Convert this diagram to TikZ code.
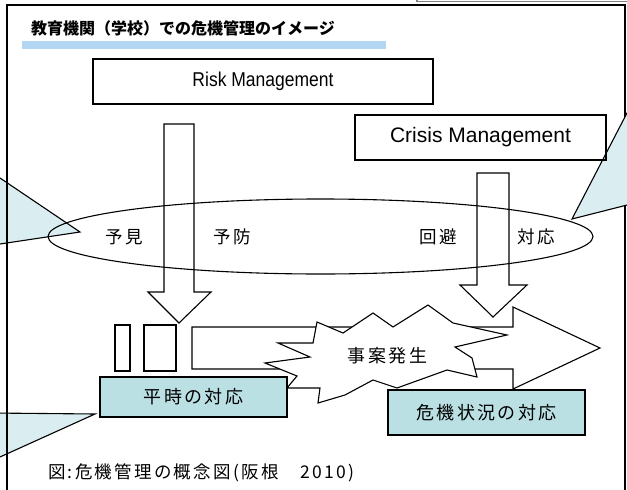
\documentclass[tikz,border=0pt]{standalone}
\usepackage{fontspec}
\setmainfont{Liberation Sans}
\newfontfamily\jp{Noto Sans CJK JP}
\newfontfamily\jpsp[LetterSpace=13]{Noto Sans CJK JP}
\usetikzlibrary{shapes.geometric}
\definecolor{calloutfill}{RGB}{218,238,241}
\definecolor{boxfill}{RGB}{186,224,228}
\definecolor{titlebar}{RGB}{178,215,242}
\tikzset{
  mbox/.style={draw, line width=1.2pt, inner sep=0pt},
  tealbox/.style={mbox, fill=boxfill},
  shapeline/.style={draw, line width=1.1pt, line join=miter},
  callout/.style={draw, line width=1.1pt, fill=calloutfill},
  jlabel/.style={font=\jpsp\fontsize{17.5}{20}\selectfont, inner sep=0pt},
  blabel/.style={font=\jpsp\fontsize{18}{20}\selectfont, inner sep=0pt},
}
\begin{document}
\begin{tikzpicture}[x=1pt,y=-1pt]
\useasboundingbox (0,0) rectangle (627,490);
% grey piece of the box above
\draw[gray, line width=1.2pt] (417,-2) -- (417,1.5) -- (630,1.5);
% left callouts (under the frame)
\path[callout] (-10,171.25) -- (80,232) -- (-10,245.5) -- cycle;
\path[callout] (95,414) -- (-10,413) -- (-10,461.5) -- cycle;
% frame
\draw[line width=1.1pt] (7,495) -- (7,5) -- (625,5) -- (625,495);
% right callout (over the frame)
\path[callout] (572,219) -- (637,93.7) -- (637,202.5) -- cycle;
% title
\fill[titlebar] (22,41) rectangle (386,49);
\node[anchor=west, inner sep=0pt, font=\jp\bfseries\fontsize{16}{18}\selectfont] (title) at (31,28) {教育機関（学校）での危機管理のイメージ};
% management boxes
\node[mbox, minimum width=340pt, minimum height=45pt] (risk) at (263,81.5)
  {\fontsize{20}{22}\selectfont\scalebox{0.875}[1]{Risk Management}};
\node[mbox, minimum width=251pt, minimum height=45pt] (crisis) at (480.5,137.5)
  {\fontsize{21}{24}\selectfont Crisis Management};
% ellipse
\node[ellipse, draw, line width=1.1pt, minimum width=545pt, minimum height=75pt, inner sep=0pt] (cycle) at (320.5,236.5) {};
\node[jlabel] (yoken) at (124,237) {予見};
\node[jlabel] (yobo) at (232,237) {予防};
\node[jlabel] (kaihi) at (438,237) {回避};
\node[jlabel] (taio) at (536,237) {対応};
% down arrows
\path[shapeline] (164,124) -- (194,124) -- (194,292) -- (211,292) -- (179,323) -- (148,292) -- (164,292) -- cycle;
\path[shapeline] (477,173) -- (509,173) -- (509,285) -- (527,285) -- (493,317) -- (460,285) -- (477,285) -- cycle;
% small rectangles
\path[shapeline] (115,325) rectangle (130,371);
\path[shapeline] (144,325) rectangle (176,371);
% big right arrow
\path[shapeline] (192,327) -- (513,327) -- (513,307) -- (600,348) -- (513,389) -- (513,369) -- (192,369) -- cycle;
% burst
\path[shapeline, fill=white] (317,322) -- (343,333) -- (373,313) -- (393,327) -- (428,305) -- (453,323)
  -- (507,335) -- (455,347) -- (472,358) -- (477,377) -- (447,370) -- (397,388) -- (373,380)
  -- (345,395) -- (318,403) -- (320,388) -- (287,388) -- (297,376) -- (265,363) -- (310,357)
  -- (278,343) -- (313,343) -- cycle;
\node[blabel] (jian) at (387.5,356) {事案発生};
% teal boxes
\node[tealbox, minimum width=187pt, minimum height=40pt] (heiji) at (193.5,397) {\jpsp\fontsize{18}{20}\selectfont 平時の対応};
\node[tealbox, minimum width=197pt, minimum height=45pt] (kiki) at (486.5,412.5) {\jpsp\fontsize{18}{20}\selectfont 危機状況の対応};
% caption
\node[anchor=west, inner sep=0pt, font=\jpsp\fontsize{17.5}{20}\selectfont] (caption) at (48,473) {図:危機管理の概念図(阪根　2010)};
\end{tikzpicture}
\end{document}
